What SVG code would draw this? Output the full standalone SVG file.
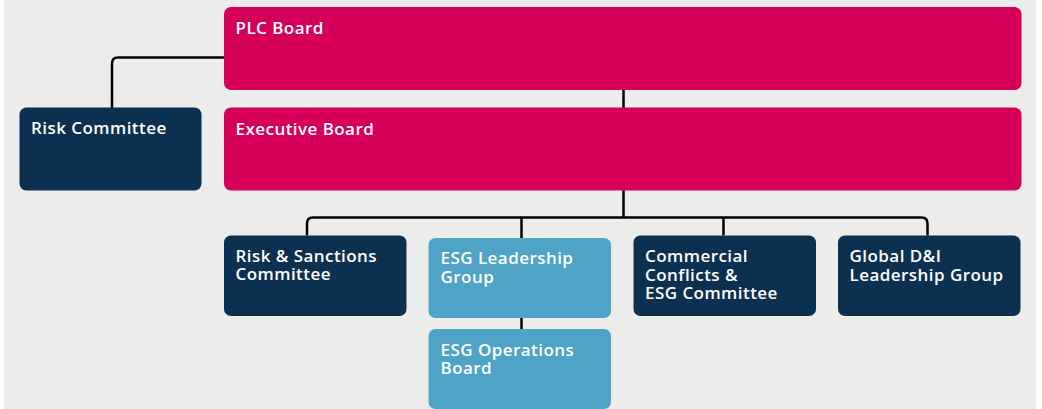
<svg xmlns="http://www.w3.org/2000/svg" width="1042" height="409" viewBox="0 0 1042 409">
<style>
.pink{fill:#D6005A}
.navy{fill:#0B3050}
.blue{fill:#4FA3C7}
.t{font-family:"Open Sans","Noto Sans","Liberation Sans",sans-serif;font-weight:600;font-size:17px;letter-spacing:0.45px;fill:#FFFFFF}
.c{fill:none;stroke:#000000;stroke-width:2.5}
</style>
<rect x="0" y="0" width="1042" height="409" fill="#FFFFFF"/>
<rect x="4" y="0" width="1032" height="409" fill="#ECECEB"/>
<g id="connectors">
<path class="c" d="M224 57.5 H118 Q112 57.5 112 63.5 V108"/>
<path class="c" d="M623.5 90 V108"/>
<path class="c" d="M623.5 190 V217.5"/>
<path class="c" d="M307 235.5 V223.5 Q307 217.5 313 217.5 H921.5 Q927.5 217.5 927.5 223.5 V235.5"/>
<path class="c" d="M521.5 217.5 V238"/>
<path class="c" d="M723.5 217.5 V235.5"/>
<path class="c" d="M521.5 318 V329"/>
</g>
<g id="plc-board">
<rect class="pink" x="224" y="7" width="797.5" height="83" rx="7"/>
<text class="t" x="235.5" y="34">PLC Board</text>
</g>
<g id="risk-committee">
<rect class="navy" x="19.5" y="107.5" width="182" height="83" rx="7"/>
<text class="t" x="31" y="134">Risk Committee</text>
</g>
<g id="executive-board">
<rect class="pink" x="224" y="107.5" width="797.5" height="83" rx="7"/>
<text class="t" x="235.5" y="134.5">Executive Board</text>
</g>
<g id="risk-sanctions">
<rect class="navy" x="224" y="235.5" width="182.5" height="80.5" rx="7"/>
<text class="t" x="235.5" y="261.5">Risk &amp; Sanctions</text>
<text class="t" x="235.5" y="280">Committee</text>
</g>
<g id="esg-leadership">
<rect class="blue" x="428.5" y="238" width="182.5" height="80" rx="7"/>
<text class="t" x="440.5" y="264">ESG Leadership</text>
<text class="t" x="440.5" y="282.5">Group</text>
</g>
<g id="esg-operations">
<rect class="blue" x="428.5" y="329" width="182.5" height="80" rx="7"/>
<text class="t" x="440.5" y="355.5">ESG Operations</text>
<text class="t" x="440.5" y="374">Board</text>
</g>
<g id="commercial-conflicts">
<rect class="navy" x="633.5" y="235.5" width="182.5" height="80.5" rx="7"/>
<text class="t" x="645" y="262">Commercial</text>
<text class="t" x="645" y="280.5">Conflicts &amp;</text>
<text class="t" x="645" y="299">ESG Committee</text>
</g>
<g id="global-di">
<rect class="navy" x="838" y="235.5" width="182.5" height="80.5" rx="7"/>
<text class="t" x="849.5" y="262">Global D&amp;I</text>
<text class="t" x="849.5" y="280.5">Leadership Group</text>
</g>
</svg>
